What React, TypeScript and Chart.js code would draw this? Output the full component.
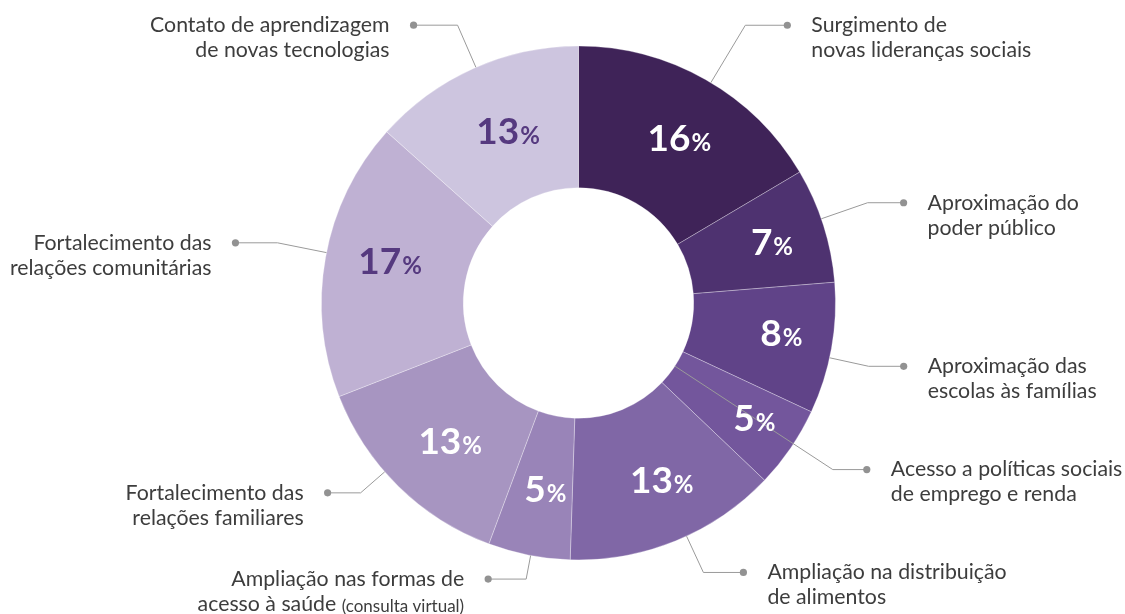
import React, { useEffect, useRef } from "react";
import { Chart, registerables } from "chart.js";

Chart.register(...registerables);

// ---- data ----
const categories = [
  "Surgimento de novas lideranças sociais",
  "Aproximação do poder público",
  "Aproximação das escolas às famílias",
  "Acesso a políticas sociais de emprego e renda",
  "Ampliação na distribuição de alimentos",
  "Ampliação nas formas de acesso à saúde (consulta virtual)",
  "Fortalecimento das relações familiares",
  "Fortalecimento das relações comunitárias",
  "Contato de aprendizagem de novas tecnologias",
];
const values = [16, 7, 8, 5, 13, 5, 13, 17, 13];
const valueLabels = ["16", "7", "8", "5", "13", "5", "13", "17", "13"];

// label text lines: each line is a list of [text, small?] segments
const labelLines: [string, boolean][][][] = [
  [[["Surgimento de", false]], [["novas lideranças sociais", false]]],
  [[["Aproximação do", false]], [["poder público", false]]],
  [[["Aproximação das", false]], [["escolas às famílias", false]]],
  [[["Acesso a políticas sociais", false]], [["de emprego e renda", false]]],
  [[["Ampliação na distribuição", false]], [["de alimentos", false]]],
  [[["Ampliação nas formas de", false]], [["acesso à saúde ", false], ["(consulta virtual)", true]]],
  [[["Fortalecimento das", false]], [["relações familiares", false]]],
  [[["Fortalecimento das", false]], [["relações comunitárias", false]]],
  [[["Contato de aprendizagem", false]], [["de novas tecnologias", false]]],
];

// ---- styles ----
const colors = [
  "#3f2358",
  "#4e3270",
  "#604388",
  "#73569c",
  "#8067a6",
  "#9984b8",
  "#a795c1",
  "#bfb1d3",
  "#cdc5df",
];
const valueColors = [
  "#ffffff", "#ffffff", "#ffffff", "#ffffff", "#ffffff", "#ffffff", "#ffffff",
  "#55397f", "#55397f",
];
const labelRadius = [194, 203, 205, 210, 195, 188, 188, 193, 186];
const labelAngleOffset = [1.6, 0, -1.8, -1.2, -3, -1, -1.5, 2.4, 1.9];
const elbowRadius = [324, 306, 297, 304, 297, 281, 289, 307, 303];
const leaderAngleOffset = [1.3, -1.5, 2.1, -1.1, -2.6, -0.4, 4.4, 1.1, 0.6];
const dotLength = [42, 36, 35, 34, 40, 38, 33, 42, 44];
const leaderFromInner = [false, false, false, true, false, false, false, false, false];

const FONT = "Lato, 'Open Sans', sans-serif";
const DEG = Math.PI / 180;

const labelPlugin = {
  id: "donutLabels",
  afterDatasetsDraw(chart: any) {
    const ctx: CanvasRenderingContext2D = chart.ctx;
    const meta = chart.getDatasetMeta(0);
    meta.data.forEach((arc: any, i: number) => {
      const p = arc.getProps(
        ["x", "y", "startAngle", "endAngle", "innerRadius", "outerRadius"],
        true
      );
      const mid = (p.startAngle + p.endAngle) / 2;
      const la = mid + leaderAngleOffset[i] * DEG;
      const c = Math.cos(la);
      const s = Math.sin(la);

      // leader line
      const r0 = leaderFromInner[i] ? p.innerRadius : p.outerRadius;
      const sx = p.x + c * r0;
      const sy = p.y + s * r0;
      const ex = p.x + c * elbowRadius[i];
      const ey = p.y + s * elbowRadius[i];
      const right = c >= 0;
      const dx = ex + (right ? 1 : -1) * dotLength[i];
      ctx.save();
      ctx.strokeStyle = "#9a9a9a";
      ctx.lineWidth = 1;
      ctx.beginPath();
      ctx.moveTo(sx, sy);
      ctx.lineTo(ex, ey);
      ctx.lineTo(dx, ey);
      ctx.stroke();
      ctx.fillStyle = "#929292";
      ctx.beginPath();
      ctx.arc(dx, ey, 3.6, 0, Math.PI * 2);
      ctx.fill();

      // category text
      ctx.fillStyle = "#3d3d3d";
      ctx.textBaseline = "middle";
      const tx = dx + (right ? 24 : -24);
      labelLines[i].forEach((line, li) => {
        const ly = ey + li * 25;
        const fonts = line.map(([, small]) =>
          small ? `400 17px ${FONT}` : `400 21.3px ${FONT}`
        );
        const widths = line.map(([t], k) => {
          ctx.font = fonts[k];
          return ctx.measureText(t).width;
        });
        const total = widths.reduce((a, b) => a + b, 0);
        let x = right ? tx : tx - total;
        ctx.textAlign = "left";
        line.forEach(([t], k) => {
          ctx.font = fonts[k];
          ctx.fillText(t, x, ly + (line[k][1] ? 2 : 0));
          x += widths[k];
        });
      });

      // value label
      const va = mid + labelAngleOffset[i] * DEG;
      const vx = p.x + Math.cos(va) * labelRadius[i];
      const vy = p.y + Math.sin(va) * labelRadius[i];
      const numFont = `700 37px ${FONT}`;
      const pctFont = `700 24px ${FONT}`;
      ctx.font = numFont;
      const nw = ctx.measureText(valueLabels[i]).width;
      ctx.font = pctFont;
      const pw = ctx.measureText("%").width;
      const start = vx - (nw + pw + 1) / 2;
      const base = vy + 13.5;
      ctx.fillStyle = valueColors[i];
      ctx.textBaseline = "alphabetic";
      ctx.textAlign = "left";
      ctx.font = numFont;
      ctx.fillText(valueLabels[i], start, base);
      ctx.font = pctFont;
      ctx.fillText("%", start + nw + 1, base);
      ctx.restore();
    });
  },
};

export default function App() {
  const ref = useRef<HTMLCanvasElement | null>(null);
  useEffect(() => {
    if (!ref.current) return;
    const chart = new Chart(ref.current, {
      type: "doughnut",
      data: {
        labels: categories,
        datasets: [
          {
            data: values,
            backgroundColor: colors,
            borderColor: "rgba(255,255,255,0.3)",
            borderWidth: 1,
          },
        ],
      },
      options: {
        responsive: false,
        animation: false,
        radius: 257,
        cutout: 115,
        layout: { padding: { left: 32, right: 0, top: 46, bottom: 54 } },
        plugins: {
          legend: { display: false },
          tooltip: { enabled: false },
        },
      } as any,
      plugins: [labelPlugin],
    });
    if ((document as any).fonts) {
      Promise.all([
        (document as any).fonts.load(`400 20px Lato`),
        (document as any).fonts.load(`700 37px Lato`),
      ])
        .then(() => chart.update())
        .catch(() => {});
    }
    return () => chart.destroy();
  }, []);
  return (
    <div
      style={{
        position: "fixed",
        left: 0,
        top: 0,
        width: 1125,
        height: 614,
        background: "#ffffff",
      }}
    >
      <canvas ref={ref} width={1125} height={614} />
    </div>
  );
}
